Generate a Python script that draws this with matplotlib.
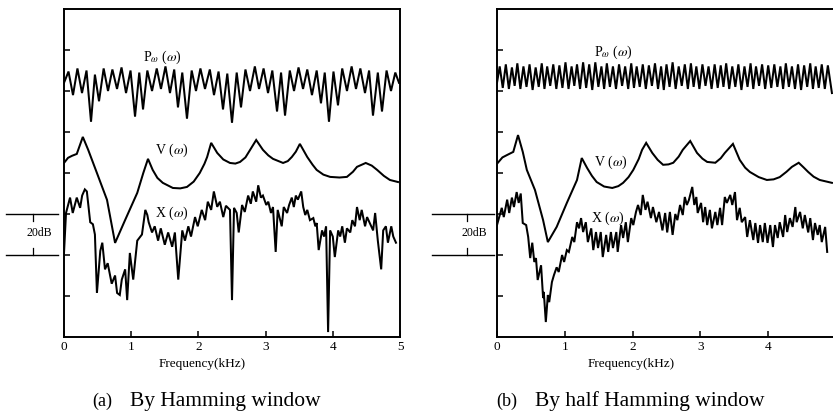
import numpy as np
import matplotlib
matplotlib.use("Agg")
import matplotlib.pyplot as plt
from matplotlib.transforms import blended_transform_factory

plt.rcParams['font.family'] = ['Liberation Serif', 'DejaVu Serif']
plt.rcParams['mathtext.fontset'] = 'stix'

# frequency in kHz, level in dB (one tick = 20 dB)
p_a = [(0.00,124),(0.067,129.5),(0.134,118),(0.20,131),(0.268,119),(0.335,130),(0.402,105),(0.46,128),
       (0.521,115),(0.59,131),(0.655,120),(0.72,130.5),(0.789,121),(0.856,131.5),(0.923,119),(0.99,130),
       (1.057,107.5),(1.12,129),(1.176,111),(1.24,130),(1.310,120),(1.38,131),(1.443,121),(1.51,132),
       (1.577,119),(1.64,130.5),(1.696,112),(1.76,129),(1.830,106.5),(1.90,130),(1.964,120),(2.03,131),
       (2.098,121),(2.17,130.5),(2.232,118),(2.30,129.5),(2.366,111),(2.43,128.5),(2.500,104.5),(2.57,129),
       (2.634,112),(2.70,130.5),(2.768,120),(2.84,132),(2.902,121),(2.97,131),(3.036,119),(3.10,130),
       (3.170,110),(3.23,129),(3.289,108),(3.36,130),(3.423,120),(3.49,131.5),(3.557,121),(3.62,130.5),
       (3.690,118),(3.76,130),(3.824,114),(3.88,129),(3.943,105),(4.01,129.5),(4.077,113),(4.14,131),
       (4.211,120),(4.28,132),(4.345,121),(4.41,131),(4.479,119),(4.54,130),(4.598,108),(4.67,129),
       (4.732,110),(4.80,130),(4.866,120),(4.93,129),(4.985,124)]

v_a = [(0.00,84.9),(0.06,87.4),(0.12,88.4),(0.19,89.3),(0.28,97.6),(0.36,91.3),(0.49,80),(0.64,66.9),
       (0.76,45.9),(0.91,57.1),(1.09,70.3),(1.18,80),(1.25,86.9),(1.32,81.5),(1.39,77.6),(1.47,75.2),
       (1.62,72.7),(1.73,72.5),(1.83,73.2),(1.93,75.8),(2.02,80),(2.09,84.5),(2.13,87.8),(2.19,94.7),
       (2.28,89.8),(2.37,86.6),(2.47,84.9),(2.55,84.6),(2.62,85.4),(2.70,87.6),(2.77,91.3),(2.86,96.1),
       (2.96,91.3),(3.04,88.6),(3.11,86.9),(3.26,84.9),(3.33,85.8),(3.39,87.8),(3.45,90.4),(3.51,94.2),
       (3.62,87.8),(3.70,84.0),(3.76,81.5),(3.86,79.2),(3.96,78.1),(4.10,77.8),(4.21,78.1),(4.30,80.6),
       (4.36,83),(4.49,84.9),(4.58,83.6),(4.66,81.5),(4.76,78.6),(4.85,76.6),(4.97,75.6)]

x_a = [(0.00,41),(0.03,60.5),(0.09,68),(0.13,60.5),(0.19,68),(0.24,63),(0.27,69),(0.31,72),(0.34,71),
       (0.39,56),(0.43,55),(0.46,50),(0.49,21.5),(0.54,42),(0.57,46),(0.61,33),(0.65,36),(0.71,26),
       (0.76,30),(0.79,21.5),(0.83,20.5),(0.86,28),(0.91,33),(0.94,18),(0.98,41),(1.03,28),(1.06,37.6),
       (1.09,47),(1.16,50),(1.21,62),(1.24,59.5),(1.26,56),(1.31,51),(1.35,54),(1.40,47),(1.44,53),
       (1.50,45),(1.55,51),(1.61,44),(1.65,51),(1.70,28),(1.76,52),(1.80,47),(1.85,54),(1.89,49),
       (1.95,58.5),(1.99,54),(2.05,62),(2.10,57),(2.14,66),(2.19,62),(2.23,71),(2.28,63.5),(2.32,66),
       (2.37,58.5),(2.41,64),(2.47,62),(2.50,18),(2.53,63),(2.57,60.5),(2.60,51),(2.65,64.4),(2.69,61),
       (2.74,69),(2.78,65),(2.81,71),(2.86,66),(2.89,74),(2.93,68),(2.96,69),(3.01,64.4),(3.04,66),
       (3.08,60.5),(3.11,63.4),(3.15,41.5),(3.18,62),(3.24,54),(3.27,63.4),(3.32,60.5),(3.35,64.4),
       (3.39,68),(3.42,63.4),(3.45,69),(3.48,67),(3.53,71),(3.56,63.4),(3.59,59.5),(3.62,62),(3.66,57),
       (3.71,58),(3.74,54),(3.76,55.6),(3.79,42.4),(3.84,52),(3.87,49),(3.90,54),(3.93,2.4),(3.96,52),
       (4.00,49),(4.03,39),(4.08,52),(4.11,49),(4.14,54),(4.18,46),(4.21,53),(4.26,51),(4.29,57),
       (4.33,54),(4.36,63.4),(4.40,57),(4.43,62),(4.48,54),(4.51,58.5),(4.55,55.6),(4.60,52),(4.63,60.5),
       (4.67,47),(4.72,33),(4.75,52),(4.79,54),(4.82,46),(4.87,54),(4.90,49),(4.94,46)]

p_b = [(0.00,124),(0.04,132),(0.085,121.5),(0.13,133),(0.175,121),(0.22,131.5),(0.26,122.5),(0.30,133.5),
       (0.345,121),(0.39,132),(0.435,122),(0.48,133),(0.525,120.5),(0.57,131.5),(0.615,122),(0.66,133.5),
       (0.70,121),(0.74,132),(0.785,122.5),(0.83,133),(0.875,121),(0.92,132.5),(0.965,121.5),(1.01,134),
       (1.055,121),(1.10,132),(1.14,122.5),(1.18,133),(1.225,121),(1.27,134),(1.315,121.5),(1.36,133),
       (1.405,120.5),(1.45,134),(1.495,122),(1.54,132),(1.58,121),(1.62,133.5),(1.665,122),(1.71,132),
       (1.755,121),(1.80,133),(1.845,122.5),(1.89,132),(1.935,121),(1.98,133.5),(2.02,121.5),(2.06,132),
       (2.105,122),(2.15,133),(2.195,121),(2.24,132.5),(2.285,122.5),(2.33,133.5),(2.375,121),(2.42,132),
       (2.46,120.5),(2.50,133),(2.545,122),(2.59,134),(2.635,121),(2.68,132),(2.725,122.5),(2.77,133),
       (2.815,121),(2.86,133.5),(2.90,122),(2.94,132),(2.985,121),(3.03,133),(3.075,122.5),(3.12,132),
       (3.165,121),(3.21,133),(3.255,121.5),(3.30,132.5),(3.34,122),(3.38,133.5),(3.425,121),(3.47,132),
       (3.515,122),(3.56,133),(3.605,120.5),(3.65,132),(3.695,122),(3.74,133.5),(3.78,121),(3.82,132),
       (3.865,122.5),(3.91,133),(3.955,121),(4.00,132.5),(4.045,121.5),(4.09,133),(4.135,122),(4.18,132),
       (4.22,121),(4.26,133.5),(4.305,122),(4.35,132),(4.395,121),(4.44,133),(4.485,120.5),(4.53,132.5),
       (4.575,122),(4.62,133.5),(4.66,121),(4.70,132),(4.745,121.5),(4.79,133),(4.835,121),(4.88,132.5),
       (4.94,119)]

v_b = [(0.00,84.5),(0.08,87.6),(0.15,88.8),(0.24,90.3),(0.31,98.5),(0.38,90.3),(0.44,81.5),(0.56,71.7),
       (0.68,57),(0.75,46.3),(0.88,53.7),(1.03,65.4),(1.18,76.6),(1.25,87.3),(1.33,82.4),(1.40,78.6),
       (1.47,75.6),(1.58,73.4),(1.70,72.7),(1.79,73.6),(1.86,75.2),(1.94,78.0),(2.01,81.5),(2.09,86.8),
       (2.14,91.3),(2.20,94.7),(2.29,89.8),(2.37,86.4),(2.45,84),(2.53,84.2),(2.60,85),(2.68,88.0),
       (2.74,91.3),(2.85,95.6),(2.95,89.8),(3.03,87.0),(3.10,85.4),(3.22,85),(3.30,87.2),(3.36,89.8),
       (3.48,94.2),(3.58,86.4),(3.66,82.6),(3.73,80.5),(3.86,78.0),(3.98,76.6),(4.08,76.9),(4.17,78),
       (4.27,80.6),(4.35,83),(4.45,85),(4.52,82.8),(4.59,80.5),(4.67,78.2),(4.76,76.6),(4.94,75.2)]

x_b = [(0.00,54.6),(0.07,63),(0.10,58.5),(0.15,67),(0.18,60.5),(0.22,68),(0.25,63.4),(0.29,70.7),
       (0.32,65.4),(0.35,70),(0.38,55.6),(0.43,54.6),(0.46,48.8),(0.49,38.5),(0.52,46),(0.55,36.6),
       (0.575,38.5),(0.60,27.8),(0.65,35),(0.68,19),(0.69,22),(0.72,7.3),(0.75,20.5),(0.77,17),
       (0.81,26.8),(0.84,30.2),(0.88,34),(0.91,31.7),(0.96,40),(0.99,36.6),(1.03,42.4),(1.06,41.5),
       (1.11,48.8),(1.14,46.3),(1.18,56),(1.21,53),(1.24,58),(1.27,51.2),(1.31,56),(1.34,46.3),
       (1.39,53),(1.42,42.4),(1.46,51.2),(1.49,43.4),(1.53,51.2),(1.56,39),(1.61,49.8),(1.64,41.5),
       (1.68,51.2),(1.71,43.4),(1.76,51.2),(1.78,41.5),(1.83,54.6),(1.86,48.3),(1.90,56),(1.93,46.3),
       (1.98,58),(2.01,54.6),(2.05,61),(2.08,64.4),(2.12,59.5),(2.15,69.3),(2.19,62),(2.22,66),
       (2.27,58),(2.30,63.4),(2.35,56),(2.39,61),(2.44,52),(2.48,60.5),(2.51,51),(2.55,61),(2.59,49.8),
       (2.63,60),(2.66,57),(2.70,64.4),(2.74,59.5),(2.77,68.3),(2.80,64.4),(2.83,66.8),(2.88,73.2),
       (2.91,64.4),(2.94,68.3),(2.96,60.5),(3.01,65.4),(3.04,56),(3.07,63.4),(3.10,54.6),(3.14,62),
       (3.17,53),(3.22,61),(3.25,54.6),(3.29,63),(3.32,54.6),(3.36,68.3),(3.39,65.4),(3.44,69.3),
       (3.47,64.4),(3.51,70.7),(3.54,57),(3.58,63),(3.61,56),(3.66,58.5),(3.69,48.8),(3.73,57),
       (3.78,47.3),(3.81,55.6),(3.85,45.9),(3.88,54.6),(3.92,46.3),(3.95,55.6),(3.99,45.9),(4.03,54.6),
       (4.07,43.9),(4.10,54.6),(4.14,48.3),(4.17,56),(4.22,48.8),(4.25,59.5),(4.28,51.2),(4.32,58),
       (4.36,53.7),(4.40,63.4),(4.42,56),(4.47,61),(4.51,53),(4.54,59.5),(4.59,51),(4.62,58),(4.66,47.3),
       (4.69,55.6),(4.73,49.8),(4.76,54.6),(4.79,46.3),(4.84,53.7),(4.87,41.5)]

freq_ticks_a = [0, 1, 2, 3, 4, 5]
freq_ticks_b = [0, 1, 2, 3, 4]   # the 5 of panel (b) falls off the page
level_ticks = [20, 40, 60, 80, 100, 120, 140]
captions = [("(a)", "By Hamming window"), ("(b)", "By half Hamming window")]

W, H = 833, 411
fig = plt.figure(figsize=(W / 100, H / 100), dpi=100)


def px(x, y):
    return x / W, 1 - y / H


def panel(left, width, curves, labels, bracket, xlab_x, ticks):
    ax = fig.add_axes([left / W, 1 - 337 / H, width / W, 328 / H])
    for pts in curves:
        f, lv = zip(*pts)
        ax.plot(f, lv, color='black', lw=1.45, solid_joinstyle='miter')
    ax.set_xlim(0, 5)
    ax.set_ylim(0, 160)
    ax.set_xticks(ticks)
    ax.set_xticklabels([str(t) for t in ticks], fontsize=9.5)
    ax.set_yticks(level_ticks)
    ax.set_yticklabels([])
    ax.tick_params(direction='in', length=4, width=1.1, pad=3)
    for s in ax.spines.values():
        s.set_linewidth(1.4)
    for txt, (fx, lv) in labels:
        ax.text(fx, lv, txt, fontsize=10, ha='center', va='center')

    # 20 dB scale bracket outside the axes
    tr = blended_transform_factory(ax.transAxes, ax.transData)
    x0, x1, xm = bracket
    for lv in (40, 60):
        ax.plot([x0, x1], [lv, lv], color='black', lw=1.0, transform=tr, clip_on=False)
    ax.plot([xm, xm], [60, 56.5], color='black', lw=0.9, transform=tr, clip_on=False)
    ax.plot([xm, xm], [43.5, 40], color='black', lw=0.9, transform=tr, clip_on=False)
    ax.text(xm + 0.02, 50.5, "20dB", fontsize=8.5, ha='center', va='center',
            transform=tr)

    fig.text(*px(xlab_x, 364), "Frequency(kHz)", fontsize=9.5, ha='center', va='center')
    return ax


pw = r"P$_{\omega}$ ($\omega$)"
panel(64, 336, [p_a, v_a, x_a],
      [(pw, (1.46, 136.5)), (r"V ($\omega$)", (1.61, 91)), (r"X ($\omega$)", (1.61, 60.5))],
      (-0.173, -0.018, -0.092), 202, freq_ticks_a)
panel(497, 339, [p_b, v_b, x_b],
      [(pw, (1.71, 139)), (r"V ($\omega$)", (1.68, 85)), (r"X ($\omega$)", (1.64, 58))],
      (-0.192, -0.009, -0.088), 631, freq_ticks_b)

for (tag, text), (tx, cx) in zip(captions, [(92, 130), (496, 535)]):
    fig.text(*px(tx, 401), tag, fontsize=13, ha='left', va='center')
    fig.text(*px(cx, 401), text, fontsize=15.5, ha='left', va='center')

fig.savefig("out.png", dpi=100)
